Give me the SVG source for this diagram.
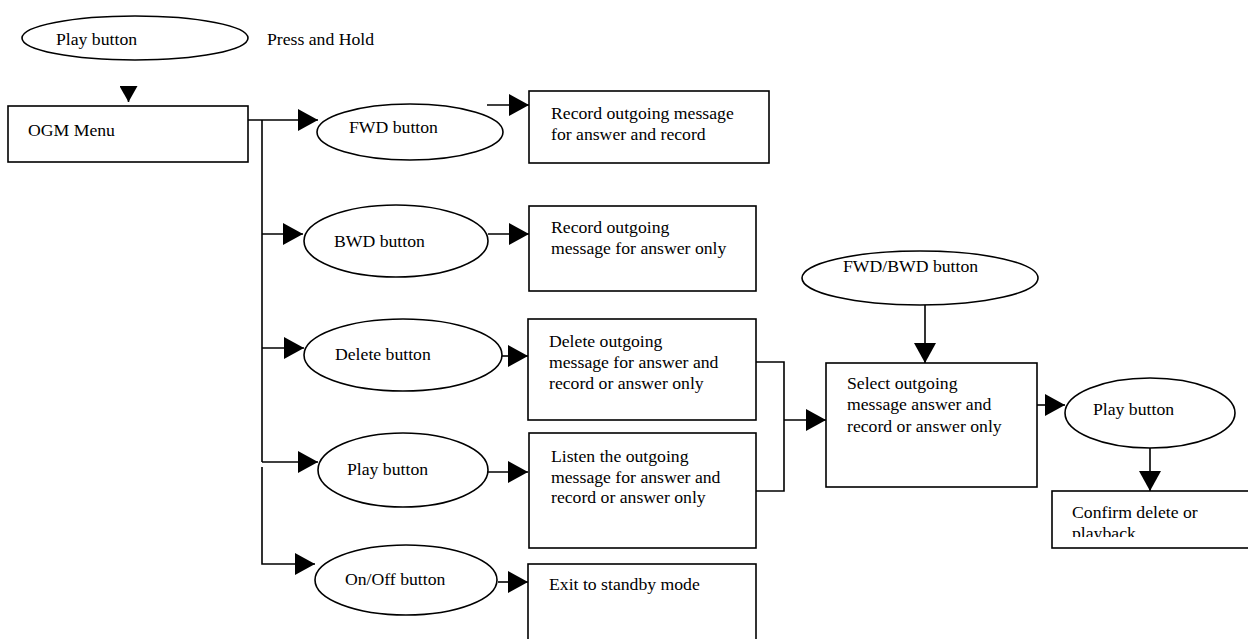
<svg xmlns="http://www.w3.org/2000/svg" width="1248" height="639" viewBox="0 0 1248 639">
<style>
  .shape { fill: #fff; stroke: #000; stroke-width: 1.6; }
  .line { fill: none; stroke: #000; stroke-width: 1.6; }
  text { font-family: "Liberation Serif", "Times New Roman", serif; font-size: 17.7px; fill: #000; }
</style>
<defs>
  <marker id="arr" markerUnits="userSpaceOnUse" markerWidth="21" markerHeight="22" refX="20" refY="11" orient="auto">
    <path d="M0,0 L20,11 L0,22 Z" fill="#000"/>
  </marker>
  <marker id="arrSmall" markerUnits="userSpaceOnUse" markerWidth="17" markerHeight="18" refX="16" refY="9" orient="auto">
    <path d="M0,0 L16,9 L0,18 Z" fill="#000"/>
  </marker>
  <clipPath id="clipConfirm"><rect x="1052" y="491" width="196" height="46"/></clipPath>
</defs>

<g id="connectors">
  <path class="line" d="M128.5,86 L128.5,102" marker-end="url(#arrSmall)"/>
  <path class="line" d="M248,120 L318,120" marker-end="url(#arr)"/>
  <path class="line" d="M262,120 L262,462"/>
  <path class="line" d="M262,234 L303,234" marker-end="url(#arr)"/>
  <path class="line" d="M262,348 L304,348" marker-end="url(#arr)"/>
  <path class="line" d="M262,462 L318,462" marker-end="url(#arr)"/>
  <path class="line" d="M262,467 L262,564 L315,564" marker-end="url(#arr)"/>
  <path class="line" d="M487,105 L529,105" marker-end="url(#arr)"/>
  <path class="line" d="M488,234 L529,234" marker-end="url(#arr)"/>
  <path class="line" d="M502,356 L528,356" marker-end="url(#arr)"/>
  <path class="line" d="M488,472 L528,472" marker-end="url(#arr)"/>
  <path class="line" d="M498,582 L528,582" marker-end="url(#arr)"/>
  <path class="line" d="M756,362 L784,362 L784,491 L756,491"/>
  <path class="line" d="M784,420 L826,420" marker-end="url(#arr)"/>
  <path class="line" d="M925,305 L925,363" marker-end="url(#arr)"/>
  <path class="line" d="M1037,405 L1065,405" marker-end="url(#arr)"/>
  <path class="line" d="M1150,448 L1150,491" marker-end="url(#arr)"/>
</g>

<g id="play-top">
  <ellipse class="shape" cx="135" cy="38" rx="113" ry="22"/>
  <text x="56" y="45">Play button</text>
</g>
<g id="press-hold-label">
  <text x="267" y="45">Press and Hold</text>
</g>
<g id="ogm-menu">
  <rect class="shape" x="8" y="106" width="240" height="56"/>
  <text x="28" y="136">OGM Menu</text>
</g>

<g id="fwd-button">
  <ellipse class="shape" cx="410" cy="132" rx="93" ry="28"/>
  <text x="349" y="133">FWD button</text>
</g>
<g id="bwd-button">
  <ellipse class="shape" cx="396" cy="241" rx="92" ry="36"/>
  <text x="334" y="247">BWD button</text>
</g>
<g id="delete-button">
  <ellipse class="shape" cx="403" cy="355" rx="99" ry="36"/>
  <text x="335" y="360">Delete button</text>
</g>
<g id="play-button-mid">
  <ellipse class="shape" cx="403" cy="470" rx="85" ry="37"/>
  <text x="347" y="475">Play button</text>
</g>
<g id="onoff-button">
  <ellipse class="shape" cx="406" cy="580" rx="91" ry="35"/>
  <text x="345" y="585">On/Off button</text>
</g>

<g id="box-record-ar">
  <rect class="shape" x="529" y="91" width="240" height="72"/>
  <text x="551" y="119">Record outgoing message</text>
  <text x="551" y="140">for answer and record</text>
</g>
<g id="box-record-a">
  <rect class="shape" x="529" y="206" width="227" height="85"/>
  <text x="551" y="233">Record outgoing</text>
  <text x="551" y="254">message for answer only</text>
</g>
<g id="box-delete">
  <rect class="shape" x="528" y="319" width="228" height="101"/>
  <text x="549" y="347">Delete outgoing</text>
  <text x="549" y="368">message for answer and</text>
  <text x="549" y="389">record or answer only</text>
</g>
<g id="box-listen">
  <rect class="shape" x="529" y="433" width="227" height="115"/>
  <text x="551" y="462">Listen the outgoing</text>
  <text x="551" y="483">message for answer and</text>
  <text x="551" y="503">record or answer only</text>
</g>
<g id="box-exit">
  <rect class="shape" x="528" y="564" width="228" height="90"/>
  <text x="549" y="590">Exit to standby mode</text>
</g>

<g id="fwdbwd-button">
  <ellipse class="shape" cx="920" cy="278" rx="118" ry="27"/>
  <text x="843" y="272">FWD/BWD button</text>
</g>
<g id="box-select">
  <rect class="shape" x="826" y="363" width="211" height="124"/>
  <text x="847" y="389">Select outgoing</text>
  <text x="847" y="410">message answer and</text>
  <text x="847" y="432">record or answer only</text>
</g>
<g id="play-button-right">
  <ellipse class="shape" cx="1150" cy="413" rx="85" ry="35"/>
  <text x="1093" y="415">Play button</text>
</g>
<g id="box-confirm">
  <rect class="shape" x="1052" y="491" width="210" height="57"/>
  <g clip-path="url(#clipConfirm)">
    <text x="1072" y="518">Confirm delete or</text>
    <text x="1072" y="539">playback</text>
  </g>
</g>
</svg>
